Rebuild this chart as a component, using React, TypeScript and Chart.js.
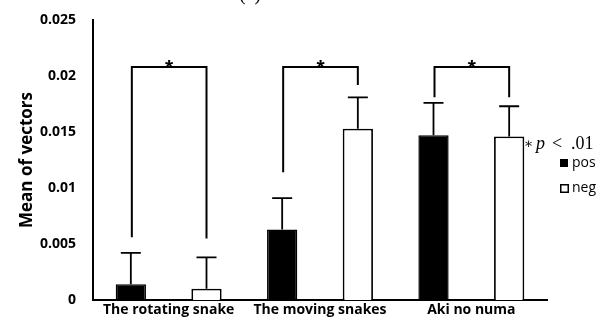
import { useEffect, useRef } from "react";
import { Chart, registerables } from "chart.js";

Chart.register(...registerables);

const categories = ["The rotating snake", "The moving snakes", "Aki no numa"];
const seriesNames = ["pos", "neg"];
const posMeans = [0.0014, 0.0063, 0.0147];
const negMeans = [0.001, 0.0153, 0.0146];
const posSD = [0.0028, 0.0028, 0.0029];
const negSD = [0.0028, 0.0028, 0.0027];
const yTickLabels = ["0", "0.005", "0.01", "0.015", "0.02", "0.025"];
const bracketTop = [0.0208, 0.0208, 0.0208];
const bracketLeftBottom = [0.0056, 0.0114, 0.0181];
const bracketRightBottom = [0.0055, 0.0192, 0.0181];
const sigMarks = ["*", "*", "*"];
const sigNote = ".01";
const panelLabel = "(a)";

const SANS = "'Open Sans', 'DejaVu Sans', sans-serif";
const SERIF = "'Liberation Serif', 'DejaVu Serif', serif";

const overlay = {
  id: "overlay",
  afterDatasetsDraw(chart: any) {
    const ctx = chart.ctx as CanvasRenderingContext2D;
    const y = chart.scales.y;
    const area = chart.chartArea;
    const m0 = chart.getDatasetMeta(0);
    const m1 = chart.getDatasetMeta(1);
    ctx.save();
    ctx.strokeStyle = "#000";
    ctx.fillStyle = "#000";
    const drawErr = (meta: any, means: number[], sds: number[]) => {
      meta.data.forEach((bar: any, i: number) => {
        const x = bar.x;
        const y0 = y.getPixelForValue(means[i]);
        const y1 = y.getPixelForValue(means[i] + sds[i]);
        ctx.lineWidth = 1.8;
        ctx.beginPath();
        ctx.moveTo(x, y0);
        ctx.lineTo(x, y1);
        ctx.moveTo(x - 10, y1);
        ctx.lineTo(x + 10, y1);
        ctx.stroke();
      });
    };
    drawErr(m0, posMeans, posSD);
    drawErr(m1, negMeans, negSD);
    categories.forEach((_, i) => {
      const xl = m0.data[i].x + 1;
      const xr = m1.data[i].x;
      const yt = y.getPixelForValue(bracketTop[i]);
      ctx.lineWidth = 2;
      ctx.beginPath();
      ctx.moveTo(xl, y.getPixelForValue(bracketLeftBottom[i]));
      ctx.lineTo(xl, yt);
      ctx.lineTo(xr, yt);
      ctx.lineTo(xr, y.getPixelForValue(bracketRightBottom[i]));
      ctx.stroke();
      ctx.font = `bold 21px 'Liberation Sans', sans-serif`;
      ctx.textAlign = "center";
      ctx.textBaseline = "alphabetic";
      ctx.fillText(sigMarks[i], (xl + xr) / 2, yt + 7);
    });
    const nx = area.right - 23;
    const ny = 149;
    ctx.textAlign = "left";
    ctx.textBaseline = "alphabetic";
    ctx.font = `14px ${SERIF}`;
    ctx.fillText("\u2217", nx, ny - 1);
    ctx.font = `italic 18px ${SERIF}`;
    ctx.fillText("p", nx + 12, ny);
    ctx.font = `18px ${SERIF}`;
    ctx.fillText("<", nx + 28, ny);
    ctx.fillText(sigNote, nx + 47, ny);
    const lx = area.right + 13;
    ctx.fillRect(lx, 159, 8, 8);
    ctx.lineWidth = 1.5;
    ctx.fillStyle = "#fff";
    ctx.fillRect(lx + 0.75, 184.75, 7.5, 7.5);
    ctx.strokeRect(lx + 0.75, 184.75, 7.5, 7.5);
    ctx.fillStyle = "#000";
    ctx.font = `14px ${SANS}`;
    ctx.textBaseline = "middle";
    ctx.fillText(seriesNames[0], lx + 12, 163);
    ctx.fillText(seriesNames[1], lx + 12, 188);
    ctx.font = `20px ${SERIF}`;
    ctx.textAlign = "center";
    ctx.textBaseline = "alphabetic";
    ctx.fillText(panelLabel, 250, 0);
    ctx.restore();
  },
};

export default function App() {
  const ref = useRef<HTMLCanvasElement>(null);
  useEffect(() => {
    document.body.style.margin = "0";
    const chart = new Chart(ref.current!, {
      type: "bar",
      data: {
        labels: categories,
        datasets: [
          {
            label: seriesNames[0],
            data: posMeans,
            backgroundColor: "#000",
            borderColor: "#000",
            borderWidth: 1.5,
            categoryPercentage: 1,
            barPercentage: 0.4,
          },
          {
            label: seriesNames[1],
            data: negMeans,
            backgroundColor: "#fff",
            borderColor: "#000",
            borderWidth: 1.8,
            categoryPercentage: 1,
            barPercentage: 0.4,
          },
        ],
      },
      options: {
        responsive: false,
        animation: false,
        layout: { padding: { left: 0, right: 65, top: 20, bottom: 0 } },
        plugins: { legend: { display: false }, tooltip: { enabled: false } },
        scales: {
          x: {
            grid: { display: false, drawTicks: false },
            border: { color: "#000", width: 2 },
            ticks: {
              color: "#000",
              padding: 2,
              font: { family: SANS, size: 14, weight: "bold" },
              maxRotation: 0,
              autoSkip: false,
            },
            afterFit: (s: any) => {
              s.height = 20;
              s.paddingLeft = 0;
              s.paddingRight = 0;
            },
          },
          y: {
            min: 0,
            max: 0.025,
            grid: { display: false, drawTicks: false },
            border: { color: "#000", width: 2 },
            ticks: {
              stepSize: 0.005,
              color: "#000",
              padding: 17,
              font: { family: SANS, size: 14, weight: "bold" },
              callback: (_v: any, i: number) => yTickLabels[i],
            },
            title: {
              display: true,
              text: "Mean of vectors",
              color: "#000",
              font: { family: SANS, size: 17, weight: "bold" },
              padding: { top: 16.8, bottom: 0 },
            },
            afterFit: (s: any) => {
              s.width = 93;
              s.paddingTop = 0;
              s.paddingBottom = 0;
            },
          },
        },
      },
      plugins: [overlay],
    });
    return () => chart.destroy();
  }, []);
  return <canvas ref={ref} width={612} height={320} style={{ display: "block" }} />;
}
